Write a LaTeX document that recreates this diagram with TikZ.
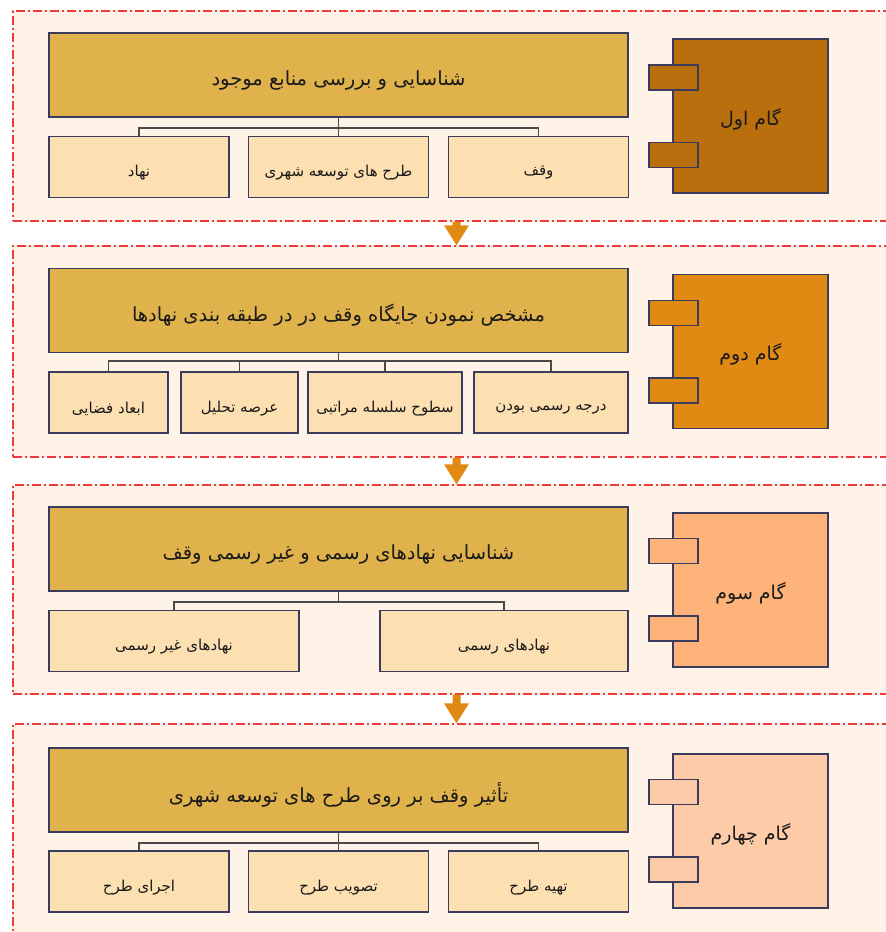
\documentclass[tikz,border=0pt]{standalone}
\usepackage{fontspec}
\usetikzlibrary{calc}
\TeXXeTstate=1
\newfontfamily\arabicfont[Script=Arabic]{DejaVu Sans}
\newcommand{\persiantext}[2][5pt]{\raisebox{-#1}[\height][\depth]{\arabicfont\beginR #2\endR}}
\definecolor{panelfill}{HTML}{FFF3E7}
\definecolor{dashred}{HTML}{EE3A3A}
\definecolor{mainfill}{HTML}{E0B24B}
\definecolor{childfill}{HTML}{FDE0B2}
\definecolor{edgecol}{HTML}{3B3B5E}
\definecolor{stepa}{HTML}{B96F0E}
\definecolor{stepb}{HTML}{E08A14}
\definecolor{stepc}{HTML}{FDB37A}
\definecolor{stepd}{HTML}{FECBA9}
\definecolor{arrowcol}{HTML}{E08A14}
\definecolor{textcol}{HTML}{1A1A1A}
\definecolor{linkcol}{HTML}{4A4A4A}
\tikzset{
  panelbox/.style={rectangle, draw=dashred, fill=panelfill, line width=1.4pt,
    dash pattern=on 9pt off 3pt on 2pt off 3pt, inner sep=0pt},
  mainbox/.style={rectangle, draw=edgecol, fill=mainfill, line width=1.8pt,
    minimum width=579pt, minimum height=84pt, inner sep=0pt, text=textcol,
    font=\fontsize{19.5}{22}\selectfont},
  childbox/.style={rectangle, draw=edgecol, fill=childfill, line width=1.8pt,
    minimum height=61pt, inner sep=0pt, text=textcol,
    font=\fontsize{15}{18}\selectfont},
  stepbox/.style={rectangle, draw=edgecol, line width=1.8pt,
    minimum width=155pt, minimum height=154pt, inner sep=0pt, text=textcol,
    font=\fontsize{19}{22}\selectfont},
  tabbox/.style={rectangle, draw=edgecol, line width=1.8pt,
    minimum width=49pt, minimum height=25pt, inner sep=0pt},
  link/.style={draw=linkcol, line width=1.2pt},
  flowarrow/.style={fill=arrowcol, draw=none}
}
\begin{document}
\begin{tikzpicture}[x=1pt, y=-1pt]
\clip (0,0) rectangle (886,932);
\fill[white] (0,0) rectangle (886,932);

% ---------- panels ----------
\node[panelbox, minimum width=887pt, minimum height=210pt] (p1) at (456.5,116) {};
\node[panelbox, minimum width=887pt, minimum height=211pt] (p2) at (456.5,351.5) {};
\node[panelbox, minimum width=887pt, minimum height=209pt] (p3) at (456.5,589.5) {};
\node[panelbox, minimum width=887pt, minimum height=226pt] (p4) at (456.5,837) {};

% ---------- arrows between panels ----------
\foreach \s/\e in {p1/p2, p2/p3, p3/p4}{
  \fill[flowarrow] ($(\s.south)+(-4,0)$) -- ($(\s.south)+(4,0)$)
     -- ($(\e.north)+(4,-20)$) -- ($(\e.north)+(12.5,-20)$)
     -- (\e.north) -- ($(\e.north)+(-12.5,-20)$)
     -- ($(\e.north)+(-4,-20)$) -- cycle;
}

% ---------- panel 1 ----------
\node[mainbox] (m1) at (338.5,75) {\persiantext{شناسایی و بررسی منابع موجود}};
\node[childbox, minimum width=180pt] (c1a) at (139,167) {\persiantext[6pt]{نهاد}};
\node[childbox, minimum width=180pt] (c1b) at (338.5,167) {\persiantext[6pt]{طرح های توسعه شهری}};
\node[childbox, minimum width=180pt] (c1c) at (538.5,167) {\persiantext[6pt]{وقف}};
\coordinate (j1) at (338.5,128);
\draw[link] (m1.south) -- (j1);
\draw[link] (c1a.north) |- (j1) -| (c1c.north);
\draw[link] (j1) -- (c1b.north);
\node[stepbox, fill=stepa] (s1) at (750.5,116) {\persiantext[3pt]{گام اول}};
\node[tabbox, fill=stepa] (t1a) at (673.5,77.5) {};
\node[tabbox, fill=stepa] (t1b) at (673.5,155) {};

% ---------- panel 2 ----------
\node[mainbox] (m2) at (338.5,310.5) {\persiantext{مشخص نمودن جایگاه وقف در در طبقه بندی نهادها}};
\node[childbox, minimum width=119pt] (c2a) at (108.5,402.5) {\persiantext[6pt]{ابعاد فضایی}};
\node[childbox, minimum width=117pt] (c2b) at (239.5,402.5) {\persiantext[6pt]{عرصه تحلیل}};
\node[childbox, minimum width=154pt] (c2c) at (385,402.5) {\persiantext[6pt]{سطوح سلسله مراتبی}};
\node[childbox, minimum width=154pt] (c2d) at (551,402.5) {\persiantext[6pt]{درجه رسمی بودن}};
\coordinate (j2) at (338.5,361);
\draw[link] (m2.south) -- (j2);
\draw[link] (c2a.north) |- (j2) -| (c2d.north);
\draw[link] (c2b.north) |- (j2);
\draw[link] (c2c.north) |- (j2);
\node[stepbox, fill=stepb] (s2) at (750.5,351.5) {\persiantext[3pt]{گام دوم}};
\node[tabbox, fill=stepb] (t2a) at (673.5,313) {};
\node[tabbox, fill=stepb] (t2b) at (673.5,390.5) {};

% ---------- panel 3 ----------
\node[mainbox] (m3) at (338.5,549) {\persiantext{شناسایی نهادهای رسمی و غیر رسمی وقف}};
\node[childbox, minimum width=250pt] (c3a) at (174,641) {\persiantext[6pt]{نهادهای غیر رسمی}};
\node[childbox, minimum width=248pt] (c3b) at (504,641) {\persiantext[6pt]{نهادهای رسمی}};
\coordinate (j3) at (338.5,602);
\draw[link] (m3.south) -- (j3);
\draw[link] (c3a.north) |- (j3) -| (c3b.north);
\node[stepbox, fill=stepc] (s3) at (750.5,590) {\persiantext[3pt]{گام سوم}};
\node[tabbox, fill=stepc] (t3a) at (673.5,551) {};
\node[tabbox, fill=stepc] (t3b) at (673.5,628.5) {};

% ---------- panel 4 ----------
\node[mainbox] (m4) at (338.5,790) {\persiantext{تأثیر وقف بر روی طرح های توسعه شهری}};
\node[childbox, minimum width=180pt] (c4a) at (139,881.5) {\persiantext[6pt]{اجرای طرح}};
\node[childbox, minimum width=180pt] (c4b) at (338.5,881.5) {\persiantext[6pt]{تصویب طرح}};
\node[childbox, minimum width=180pt] (c4c) at (538.5,881.5) {\persiantext[6pt]{تهیه طرح}};
\coordinate (j4) at (338.5,843);
\draw[link] (m4.south) -- (j4);
\draw[link] (c4a.north) |- (j4) -| (c4c.north);
\draw[link] (j4) -- (c4b.north);
\node[stepbox, fill=stepd] (s4) at (750.5,831) {\persiantext[3pt]{گام چهارم}};
\node[tabbox, fill=stepd] (t4a) at (673.5,792) {};
\node[tabbox, fill=stepd] (t4b) at (673.5,869.5) {};
\end{tikzpicture}
\end{document}
